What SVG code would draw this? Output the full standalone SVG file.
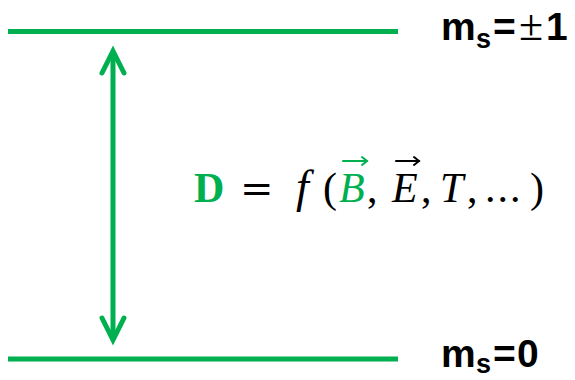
<svg xmlns="http://www.w3.org/2000/svg" width="575" height="380" viewBox="0 0 575 380">
<style>
.lvl{stroke:#00B050;stroke-width:5;fill:none}
.arr{stroke:#00B050;stroke-width:5;fill:none;stroke-linejoin:miter;stroke-linecap:round}
.lab{font-family:"Liberation Sans",Arial,sans-serif;font-weight:bold;fill:#000;font-size:39px}
.sub{font-size:27px}
.pm{font-family:"Liberation Serif","Times New Roman",serif;font-weight:normal;font-size:44px}
.eq{font-family:"Liberation Serif","Times New Roman",serif;font-size:42px;fill:#000}
.eqs{font-family:"DejaVu Serif",serif;font-size:40px}
.vec{stroke-width:2;fill:none;stroke-linecap:round}
</style>
<g id="level-top">
<line class="lvl" x1="8" y1="31.5" x2="398" y2="31.5"/>
<text class="lab" y="40"><tspan x="441">m</tspan><tspan class="sub" x="476" dy="8">s</tspan><tspan x="493" dy="-8">=</tspan><tspan class="pm" x="519">±</tspan><tspan x="546">1</tspan></text>
</g>
<g id="level-bottom">
<line class="lvl" x1="8" y1="359" x2="398" y2="359"/>
<text class="lab" y="367"><tspan x="441">m</tspan><tspan class="sub" x="476" dy="6">s</tspan><tspan x="493" dy="-6">=</tspan><tspan x="517">0</tspan></text>
</g>
<g id="connectors">
<line class="arr" x1="113" y1="53" x2="113" y2="338"/>
<polyline class="arr" points="102,73 113,51 124,73"/>
<polyline class="arr" points="102,318 113,340 124,318"/>
</g>
<g id="equation">
<text class="eq" y="202"><tspan x="194" font-weight="bold" fill="#00B050">D</tspan><tspan class="eqs" x="240">=</tspan><tspan x="296" font-style="italic" font-size="46">f</tspan><tspan x="323">(</tspan><tspan x="339" font-style="italic" fill="#00B050">B</tspan><tspan x="367">,</tspan><tspan x="392" font-style="italic">E</tspan><tspan x="421">,</tspan><tspan x="440" font-style="italic">T</tspan><tspan x="467">,</tspan><tspan x="485" letter-spacing="2">...</tspan><tspan x="530">)</tspan></text>
<g class="vec" stroke="#00B050"><line x1="343" y1="161" x2="367" y2="161"/><polyline points="362,157 367,161 362,165"/></g>
<g class="vec" stroke="#000"><line x1="396" y1="161" x2="419" y2="161"/><polyline points="414,157 419,161 414,165"/></g>
</g>
</svg>
